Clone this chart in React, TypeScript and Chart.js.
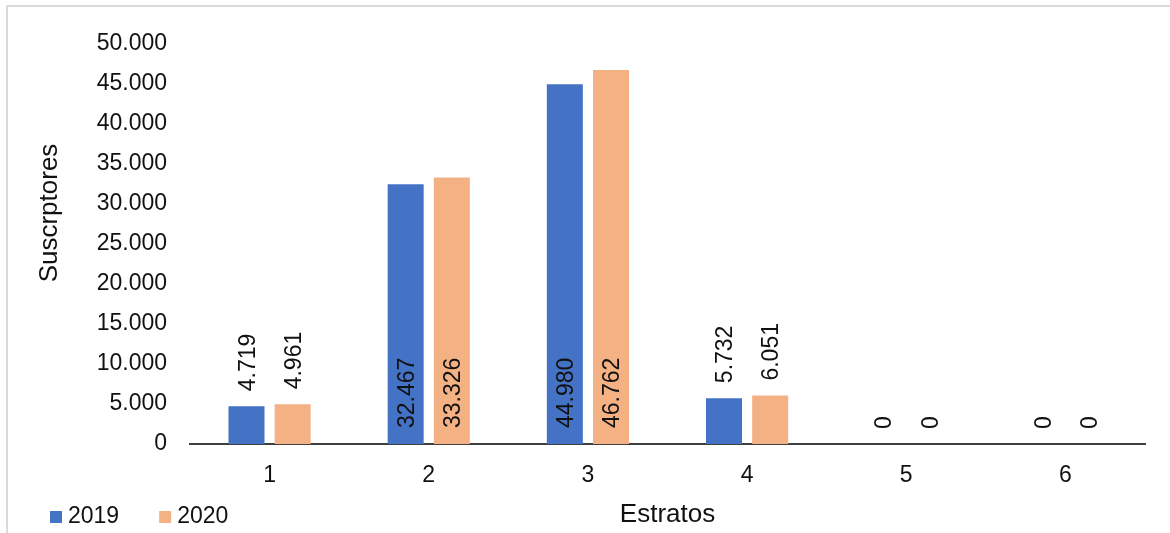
import React, { useEffect, useRef } from "react";
import { Chart, registerables } from "chart.js";

Chart.register(...registerables);

const categories = ["1", "2", "3", "4", "5", "6"];
const seriesNames = ["2019", "2020"];
const values2019 = [4719, 32467, 44980, 5732, 0, 0];
const values2020 = [4961, 33326, 46762, 6051, 0, 0];
const seriesColors = ["#4472C4", "#F4B183"];
const yMax = 50000;
const yStep = 5000;
const xTitle = "Estratos";
const yTitle = "Suscrptores";

const FONT = "'Liberation Sans', Arial, sans-serif";
const TEXT = "#111111";

const fmt = (v: number) => String(Math.round(v)).replace(/\B(?=(\d{3})+(?!\d))/g, ".");

const labelPlugin = {
  id: "barLabels",
  afterDatasetsDraw(chart: any) {
    const ctx = chart.ctx;
    ctx.save();
    ctx.font = `23px ${FONT}`;
    ctx.fillStyle = TEXT;
    const capH = 16.5;
    chart.data.datasets.forEach((ds: any, di: number) => {
      const meta = chart.getDatasetMeta(di);
      meta.data.forEach((el: any, i: number) => {
        const v = ds.data[i];
        const text = fmt(v);
        const w = ctx.measureText(text).width;
        const { x, y, base } = el.getProps(["x", "y", "base"], true);
        const h = base - y;
        const start = h > w + 32 ? base - 16 : y - 15;
        ctx.save();
        ctx.translate(x, start);
        ctx.rotate(-Math.PI / 2);
        ctx.textAlign = "left";
        ctx.textBaseline = "alphabetic";
        ctx.fillText(text, 0, capH / 2);
        ctx.restore();
      });
    });
    ctx.restore();
  },
  afterDraw(chart: any) {
    const ctx = chart.ctx;
    const ca = chart.chartArea;
    ctx.save();
    ctx.fillStyle = TEXT;
    // y title
    ctx.font = `26px ${FONT}`;
    ctx.save();
    ctx.translate(ca.left - 140, (ca.top + ca.bottom) / 2 - 31);
    ctx.rotate(-Math.PI / 2);
    ctx.textAlign = "center";
    ctx.textBaseline = "middle";
    ctx.fillText(yTitle, 0, 0);
    ctx.restore();
    // x title
    ctx.textAlign = "center";
    ctx.textBaseline = "middle";
    ctx.fillText(xTitle, (ca.left + ca.right) / 2, ca.bottom + 71);
    // legend
    ctx.font = `23px ${FONT}`;
    let lx = 50;
    const ly = ca.bottom + 73;
    chart.data.datasets.forEach((ds: any) => {
      ctx.fillStyle = ds.backgroundColor;
      ctx.fillRect(lx, ly - 6, 12, 12);
      ctx.fillStyle = TEXT;
      ctx.textAlign = "left";
      ctx.textBaseline = "middle";
      ctx.fillText(ds.label, lx + 18, ly);
      lx += 18 + ctx.measureText(ds.label).width + 40;
    });
    ctx.restore();
  },
};

export default function App() {
  const ref = useRef<HTMLCanvasElement>(null);

  useEffect(() => {
    document.body.style.overflow = "hidden";
    const chart = new Chart(ref.current as HTMLCanvasElement, {
      type: "bar",
      data: {
        labels: categories,
        datasets: [
          { label: seriesNames[0], data: values2019, backgroundColor: seriesColors[0] },
          { label: seriesNames[1], data: values2020, backgroundColor: seriesColors[1] },
        ],
      },
      options: {
        responsive: false,
        animation: false,
        events: [],
        layout: { padding: { top: 44, right: 25, left: 0, bottom: 0 } },
        datasets: {
          bar: { barPercentage: 0.78, categoryPercentage: 0.58 },
        },
        plugins: {
          legend: { display: false },
          tooltip: { enabled: false },
          title: { display: false },
        },
        scales: {
          x: {
            grid: { display: false, drawTicks: false },
            border: { display: true, color: "#3f3f3f", width: 2 },
            ticks: { font: { family: FONT, size: 23 }, color: TEXT, padding: 18 },
            afterFit: (s: any) => {
              s.height = 89;
            },
          },
          y: {
            min: 0,
            max: yMax,
            grid: { display: false, drawTicks: false },
            border: { display: false },
            ticks: {
              stepSize: yStep,
              font: { family: FONT, size: 23 },
              color: TEXT,
              padding: 23,
              callback: (v: any) => fmt(Number(v)),
            },
            afterFit: (s: any) => {
              s.width = 190;
            },
          },
        },
      },
      plugins: [labelPlugin],
    } as any);
    return () => chart.destroy();
  }, []);

  return (
    <div style={{ position: "absolute", left: 0, top: 0, width: 1170, height: 533, background: "#fff" }}>
      <div
        style={{
          position: "absolute",
          left: 6,
          top: 5,
          width: 1164,
          height: 528,
          borderLeft: "2px solid #dadada",
          borderTop: "2px solid #dadada",
          boxSizing: "border-box",
        }}
      />
      <canvas
        ref={ref}
        width={1170}
        height={533}
        style={{ position: "absolute", left: 0, top: 0, width: 1170, height: 533 }}
      />
    </div>
  );
}
